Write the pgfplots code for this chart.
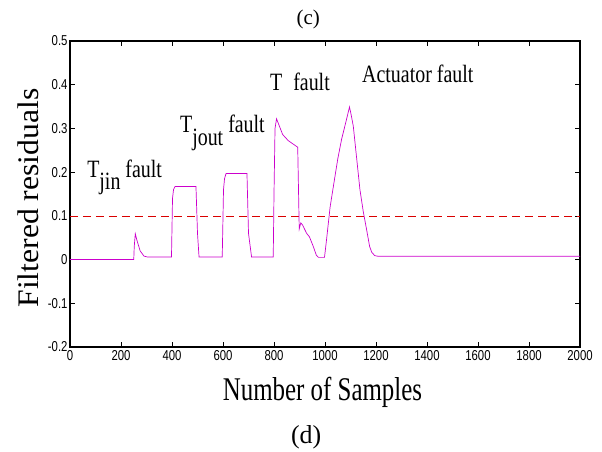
\documentclass[border=0pt]{standalone}
\usepackage{fontspec}
\setmainfont{Liberation Serif}
\newfontfamily\arial{Liberation Sans}
\usepackage{pgfplots}
\pgfplotsset{compat=1.18}
\definecolor{mag}{RGB}{204,0,204}
\newcommand{\tall}[1]{\scalebox{1}[1.25]{#1}}
\begin{document}
\begin{tikzpicture}
\path[use as bounding box] (-70bp,-105bp) rectangle (532bp,347bp);
\begin{axis}[
  scale only axis, width=510bp, height=306bp,
  xmin=0, xmax=2000, ymin=-0.2, ymax=0.5,
  xtick={0,200,...,2000}, ytick={-0.2,-0.1,0,0.1,0.2,0.3,0.4,0.5},
  tick align=inside, major tick length=5bp,
  every tick/.style={black, line width=0.6pt},
  axis line style={black, line width=1.1pt},
  /pgf/number format/assume math mode=true,
  /pgf/number format/set thousands separator={},
  yticklabel style={/pgf/number format/fixed, /pgf/number format/precision=1},
  scaled y ticks=false, scaled x ticks=false,
  ticklabel style={font=\arial\fontsize{12}{13}\selectfont},
  xticklabel={\scalebox{0.95}[1.2]{\pgfmathprintnumber{\tick}}},
  yticklabel={\scalebox{0.95}[1.2]{\pgfmathprintnumber{\tick}}},
  xticklabel style={yshift=0bp},
  yticklabel style={xshift=1bp},
  clip=false,
]
\addplot[red!85!black, dashed, dash pattern=on 8bp off 5bp, line width=0.6pt] coordinates {(0,0.1) (2000,0.1)};
\addplot[mag, line width=0.7pt] coordinates {
(0,0) (250,0) (252,0.03) (256,0.059) (262,0.045) (275,0.02) (290,0.008) (303,0.006)
(398,0.006) (402,0.14) (406,0.16) (412,0.167) (494,0.167) (500,0.06) (506,0.006)
(597,0.006) (602,0.16) (606,0.185) (612,0.197) (694,0.197) (700,0.06) (712,0.006)
(797,0.006) (800,0.15) (804,0.30) (810,0.322) (818,0.31) (834,0.286) (856,0.272) (893,0.257)
(898,0.1) (899,0.07) (905,0.084) (912,0.079) (928,0.06) (939,0.052) (954,0.03) (966,0.01) (974,0.005)
(998,0.005) (1005,0.04) (1020,0.12) (1033,0.168) (1050,0.23) (1065,0.275) (1082,0.315) (1096,0.349)
(1103,0.33) (1111,0.305) (1137,0.16) (1150,0.11) (1163,0.069) (1175,0.03) (1183,0.017) (1195,0.009)
(1209,0.0075) (2000,0.0075)
};
\node[anchor=base west, inner sep=0pt, font=\fontsize{20}{22}\selectfont] at (axis cs:67,0.188) {\tall{T\raisebox{-10bp}{jin} fault}};
\node[anchor=base west, inner sep=0pt, font=\fontsize{20}{22}\selectfont] at (axis cs:431,0.29) {\tall{T\raisebox{-10bp}{jout} fault}};
\node[anchor=base west, inner sep=0pt, font=\fontsize{20}{22}\selectfont] at (axis cs:784,0.387) {\tall{T\hspace{11bp}fault}};
\node[anchor=base west, inner sep=0pt, font=\fontsize{20}{22}\selectfont] at (axis cs:1145,0.405) {\tall{Actuator fault}};
\node[anchor=base, inner sep=0pt, font=\fontsize{25}{27}\selectfont] at ([yshift=-53bp]axis description cs:0.495,0) {\scalebox{1}[1.33]{Number of Samples}};
\node[font=\fontsize{26}{28}\selectfont, inner sep=0pt] at ([yshift=-90bp]axis description cs:0.463,0) {(d)};
\node[font=\fontsize{21}{23}\selectfont, inner sep=0pt] at ([yshift=22bp]axis description cs:0.467,1) {(c)};
\node[rotate=90, font=\fontsize{30}{32}\selectfont] at ([xshift=-42bp,yshift=-4bp]axis description cs:0,0.5) {\scalebox{1.06}[1]{Filtered residuals}};
\end{axis}
\end{tikzpicture}
\end{document}
